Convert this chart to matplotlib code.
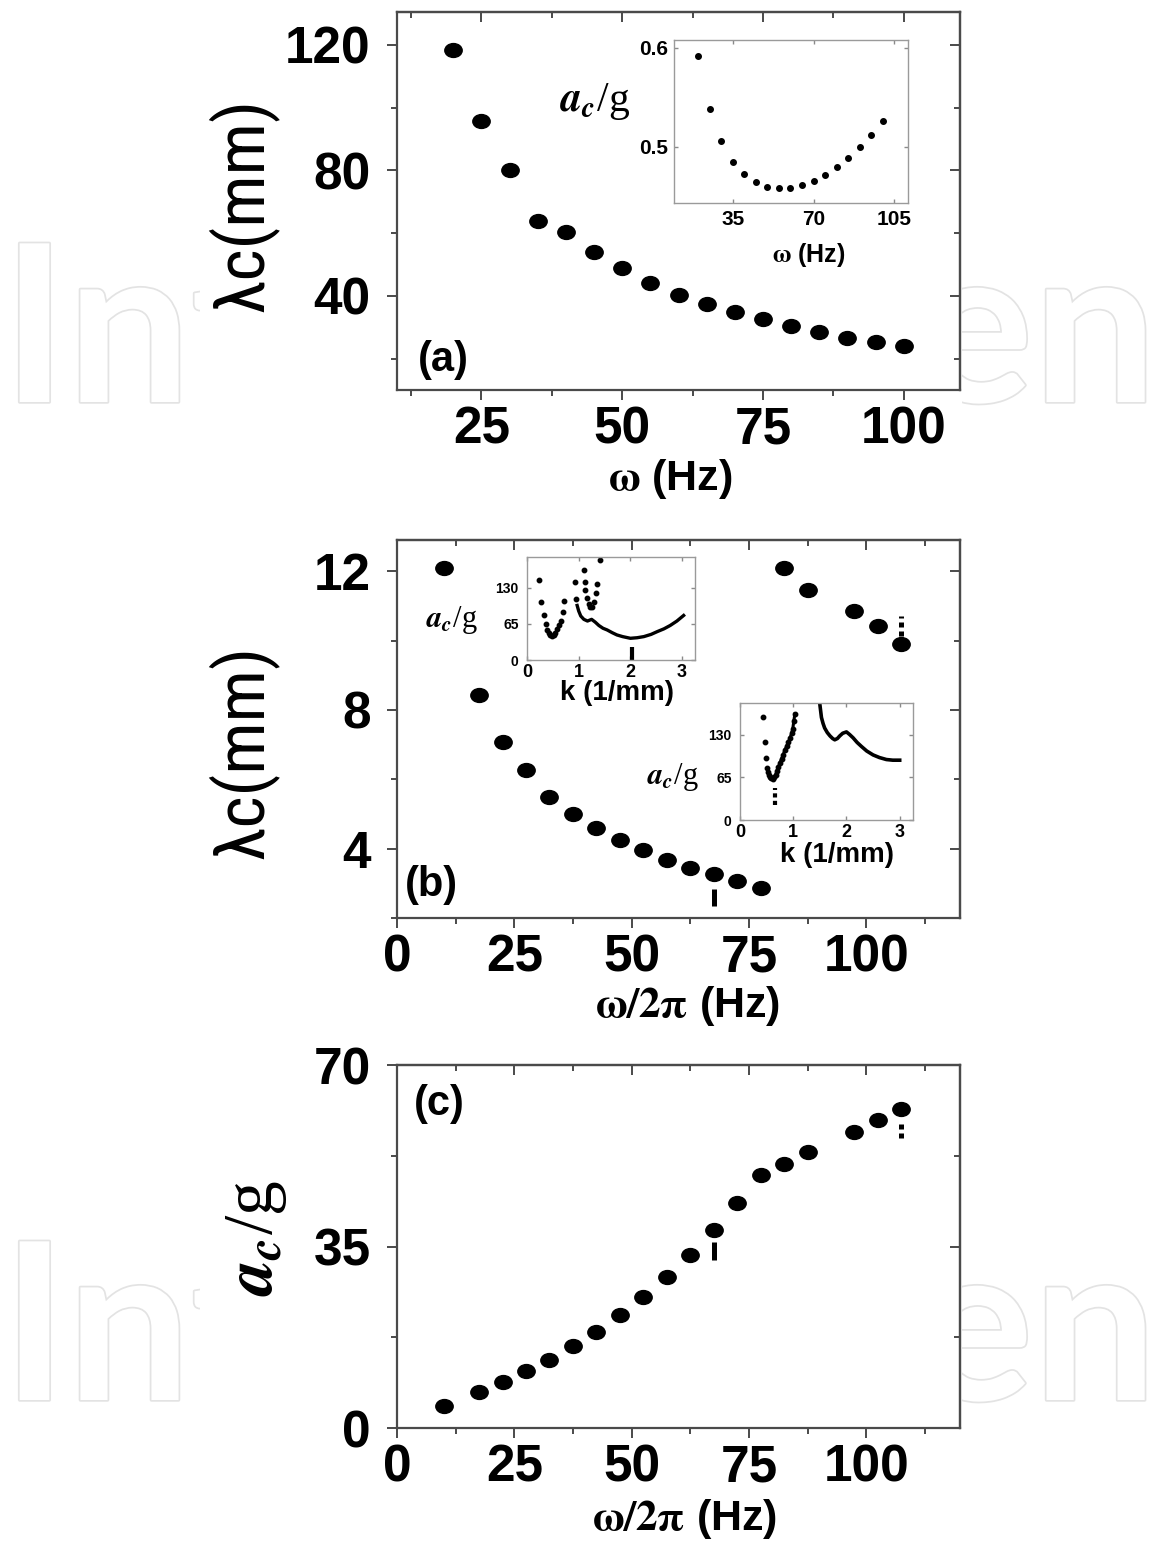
import matplotlib
matplotlib.use("Agg")
import matplotlib.pyplot as plt
from matplotlib.path import Path
from matplotlib.transforms import Affine2D
from matplotlib.ticker import MultipleLocator
from matplotlib.patches import Rectangle
from matplotlib.font_manager import FontProperties, findfont
import matplotlib.patheffects as pe

# ---------------- data ----------------
omega_a = [20, 25, 30, 35, 40, 45, 50, 55, 60, 65, 70, 75, 80, 85, 90, 95, 100]
lambda_a = [118.4, 95.7, 80.1, 64.0, 60.5, 54.0, 48.9, 44.1, 40.4, 37.5, 34.9,
            32.5, 30.4, 28.6, 26.7, 25.4, 24.0]
inset_a_omega = [20, 25, 30, 35, 40, 45, 50, 55, 60, 65, 70, 75, 80, 85, 90, 95, 100]
inset_a_acc = [0.592, 0.538, 0.506, 0.485, 0.472, 0.464, 0.459, 0.458, 0.458,
               0.461, 0.465, 0.471, 0.479, 0.489, 0.500, 0.512, 0.526]

omega_bc = [10, 17.5, 22.5, 27.5, 32.5, 37.5, 42.5, 47.5, 52.5, 57.5, 62.5,
            67.5, 72.5, 77.5, 82.5, 87.5, 97.5, 102.5, 107.5]
lambda_b = [12.1, 8.43, 7.08, 6.28, 5.49, 5.01, 4.60, 4.24, 3.95, 3.68, 3.44,
            3.28, 3.08, 2.87, 12.1, 11.47, 10.84, 10.41, 9.90]
acc_c = [4.2, 7.0, 8.8, 10.9, 13.2, 15.8, 18.6, 21.8, 25.3, 29.2, 33.4,
         38.2, 43.3, 48.8, 51.0, 53.3, 57.1, 59.4, 61.6]

# marks on selected points: (x, y_start, y_end)
b_solid_mark = (67.5, 2.36, 2.84)
b_dotted_mark = (107.5, 10.12, 10.70)
c_solid_mark = (67.5, 32.4, 35.9)
c_dotted_mark = (107.5, 55.9, 59.1)

# upper inset of (b): a_c/g vs k
ib1_tongue1_k = [0.23, 0.28, 0.32, 0.36, 0.39, 0.42, 0.45, 0.48, 0.52, 0.55,
                 0.58, 0.62, 0.65, 0.70, 0.72]
ib1_tongue1_a = [143, 104, 80, 65, 54, 48, 45, 44, 45, 49, 55, 62, 70, 86, 106]
ib1_tongue2_k = [0.935, 0.955, 1.10, 1.115, 1.13, 1.16, 1.19, 1.22, 1.25, 1.29,
                 1.33, 1.355, 1.42]
ib1_tongue2_a = [140, 110, 161, 140, 125, 112, 100, 95, 96, 105, 120, 137, 179]
ib1_curve_k = [0.97, 1.00, 1.04, 1.10, 1.17, 1.25, 1.32, 1.39, 1.47, 1.55, 1.65,
               1.74, 1.85, 2.00, 2.13, 2.26, 2.40, 2.52, 2.65, 2.77, 2.90, 3.03]
ib1_curve_a = [98, 88, 79, 73, 70, 73, 68, 62, 57, 54, 49, 45, 42, 39, 40, 42,
               46, 51, 56, 62, 70, 80]
ib1_mark = (2.03, 0, 24)

# lower inset of (b)
ib2_left_k = [0.44, 0.47, 0.49, 0.51, 0.53, 0.55, 0.57, 0.59, 0.62, 0.64, 0.67,
              0.69, 0.72, 0.75, 0.78, 0.81, 0.84, 0.875, 0.91, 0.94, 0.97, 0.99,
              1.01, 1.03]
ib2_left_a = [157, 118, 94, 79, 73, 69, 66, 64, 63, 65, 69, 74, 80, 87, 93, 99,
              106, 112, 118, 125, 132, 138, 150, 161]
ib2_right_k = [1.50, 1.53, 1.56, 1.59, 1.64, 1.69, 1.74, 1.78, 1.83, 1.875, 1.93,
               2.00, 2.06, 2.125, 2.20, 2.28, 2.38, 2.50, 2.62, 2.75, 2.87, 3.00]
ib2_right_a = [176, 156, 147, 140, 133, 128, 124, 122, 124, 128, 132, 134, 130,
               125, 118, 112, 105, 99, 95, 92, 91, 91]
ib2_mark = (0.65, 23, 48)

# ---------------- style ----------------
plt.rcParams["font.family"] = ["Liberation Sans", "DejaVu Sans"]
plt.rcParams["font.weight"] = "bold"
plt.rcParams["mathtext.fontset"] = "stix"


def has_font(name):
    try:
        findfont(FontProperties(family=name), fallback_to_default=False)
        return True
    except Exception:
        return False


narrow = None
for cand in ["Liberation Sans Narrow", "Roboto Condensed", "DejaVu Sans Condensed"]:
    if has_font(cand):
        narrow = cand
        break
if narrow:
    LAM_FAM, LAM_SIZE = [narrow, "DejaVu Sans"], 50
else:
    LAM_FAM, LAM_SIZE = ["Liberation Sans", "DejaVu Sans"], 41

SERIF = ["Liberation Serif", "DejaVu Serif"]
SP = "#4a4a4a"
W, H = 1150, 1541

fig = plt.figure(figsize=(W / 100, H / 100), dpi=100)
fig.patch.set_facecolor("white")


def rect(x0, y0, x1, y1):
    return [x0 / W, 1 - y1 / H, (x1 - x0) / W, (y1 - y0) / H]


# watermark (only the parts outside the chart show)
WM = dict(fontsize=158, family=["Lato", "Open Sans", "DejaVu Sans"],
          fontweight="bold", color="white", va="baseline", zorder=-3,
          path_effects=[pe.withStroke(linewidth=2.5, foreground="#e3e3e3")])
for base in (402, 1400):
    fig.text(2 / W, 1 - base / H, "Int", ha="left", **WM)
    fig.text(916 / W, 1 - base / H, "en", ha="left", **WM)
fig.add_artist(Rectangle((200 / W, 0), (962 - 200) / W, 1, transform=fig.transFigure,
                         facecolor="white", edgecolor="none", zorder=-2))

ell = Path.unit_circle().transformed(Affine2D().scale(1.25, 1.0))


def main_axes(r, xlim, ylim, xmaj, xminor, ymaj, yminor):
    ax = fig.add_axes(r)
    ax.set_xlim(xlim)
    ax.set_ylim(ylim)
    ax.set_xticks(xmaj)
    ax.set_yticks(ymaj)
    ax.xaxis.set_minor_locator(MultipleLocator(xminor))
    ax.yaxis.set_minor_locator(MultipleLocator(yminor))
    for s in ax.spines.values():
        s.set_color(SP)
        s.set_linewidth(1.6)
    ax.tick_params(which="both", direction="out", color=SP, width=1.4,
                   top=False, right=False, labelsize=37)
    ax.tick_params(which="major", length=7)
    ax.tick_params(which="minor", length=4)
    ax.tick_params(axis="x", which="major", pad=4)
    ax.tick_params(axis="y", which="major", pad=12)
    sx = ax.secondary_xaxis("top")
    sx.set_xticks(xmaj)
    sx.xaxis.set_minor_locator(MultipleLocator(xminor))
    sx.tick_params(which="both", direction="in", color=SP, width=1.4, labeltop=False)
    sx.tick_params(which="major", length=7)
    sx.tick_params(which="minor", length=4)
    sy = ax.secondary_yaxis("right")
    sy.set_yticks(ymaj)
    sy.yaxis.set_minor_locator(MultipleLocator(yminor))
    sy.tick_params(which="both", direction="in", color=SP, width=1.4, labelright=False)
    sy.tick_params(which="major", length=7)
    sy.tick_params(which="minor", length=4)
    for s in list(sx.spines.values()) + list(sy.spines.values()):
        s.set_color(SP)
        s.set_linewidth(1.6)
    return ax


def xlabel(ax, mathpart, x, y):
    ax.set_xlabel(mathpart + " (Hz)", fontsize=31, fontweight="bold", va="center")
    ax.xaxis.set_label_coords(x, y)


def inset_axes(r, xlim, ylim, xt, yt, xls, yls, xpad, ypad):
    ia = fig.add_axes(r)
    ia.set_xlim(xlim)
    ia.set_ylim(ylim)
    ia.set_xticks(xt)
    ia.set_yticks(yt)
    for s in ia.spines.values():
        s.set_color("#9a9a9a")
        s.set_linewidth(1.0)
    ia.tick_params(which="both", direction="in", color="#8a8a8a", width=1.0,
                   top=True, right=True, length=3)
    ia.tick_params(axis="x", labelsize=xls, pad=xpad)
    ia.tick_params(axis="y", labelsize=yls, pad=ypad)
    return ia


# ---------------- panel (a) ----------------
ax_a = main_axes(rect(397, 12, 960, 390), (10, 110), (10, 130.5),
                 [25, 50, 75, 100], 12.5, [40, 80, 120], 20)
ax_a.plot(omega_a, lambda_a, linestyle="none", marker=ell, ms=12.5, color="black")
ax_a.set_ylabel("λc(mm)", fontsize=LAM_SIZE, family=LAM_FAM, fontweight="normal",
                va="center")
ax_a.yaxis.set_label_coords(-0.2735, 0.489)
xlabel(ax_a, r"$\mathrm{\omega}$", 0.485, -0.235)
ax_a.text(0.037, 0.079, "(a)", transform=ax_a.transAxes, fontsize=30,
          fontweight="bold", ha="left", va="center")

ia = inset_axes(rect(674, 40, 908, 203), (9.6, 110.9), (0.443, 0.608),
                [35, 70, 105], [0.5, 0.6], 15, 15, 5, 4)
ia.plot(inset_a_omega, inset_a_acc, linestyle="none", marker="o", ms=4, color="black")
ia.set_xlabel(r"$\mathrm{\omega}$ (Hz)", fontsize=18, fontweight="bold", va="center")
ia.xaxis.set_label_coords(0.575, -0.32)
ia.text(-0.338, 0.62, r"$a_c$/g", transform=ia.transAxes, fontsize=30,
        family=SERIF, fontweight="normal", ha="center", va="center")

# ---------------- panel (b) ----------------
ax_b = main_axes(rect(397, 540, 960, 918), (0, 120), (2.0, 12.9),
                 [0, 25, 50, 75, 100], 12.5, [4, 8, 12], 2)
ax_b.plot(omega_bc, lambda_b, linestyle="none", marker=ell, ms=12.5, color="black")
ax_b.plot([b_solid_mark[0]] * 2, b_solid_mark[1:], color="black", lw=3.6,
          solid_capstyle="butt")
ax_b.plot([b_dotted_mark[0]] * 2, b_dotted_mark[1:], color="black", lw=3.6,
          linestyle=(0, (1.0, 0.8)), dash_capstyle="butt")
ax_b.set_ylabel("λc(mm)", fontsize=LAM_SIZE, family=LAM_FAM, fontweight="normal",
                va="center")
ax_b.yaxis.set_label_coords(-0.2735, 0.44)
xlabel(ax_b, r"$\mathrm{\omega/2\pi}$", 0.517, -0.232)
ax_b.text(0.014, 0.087, "(b)", transform=ax_b.transAxes, fontsize=30,
          fontweight="bold", ha="left", va="center")

ib1 = inset_axes(rect(527, 557, 695, 660), (0, 3.25), (0, 185),
                 [0, 1, 2, 3], [0, 65, 130], 13, 10, 3, 6)
ib1.plot(ib1_tongue1_k, ib1_tongue1_a, linestyle="none", marker="o", ms=3.2, color="black")
ib1.plot(ib1_tongue2_k, ib1_tongue2_a, linestyle="none", marker="o", ms=3.2, color="black")
ib1.plot(ib1_curve_k, ib1_curve_a, color="black", lw=2.4)
ib1.plot([ib1_mark[0]] * 2, ib1_mark[1:], color="black", lw=3.0, solid_capstyle="butt")
ib1.set_xlabel("k (1/mm)", fontsize=20, fontweight="bold", va="center")
ib1.xaxis.set_label_coords(0.534, -0.323)
ib1.text(-0.446, 0.39, r"$a_c$/g", transform=ib1.transAxes, fontsize=22,
         family=SERIF, fontweight="normal", ha="center", va="center")

ib2 = inset_axes(rect(740, 703, 913, 820), (0, 3.25), (0, 178),
                 [0, 1, 2, 3], [0, 65, 130], 13, 10, 3, 6)
ib2.plot(ib2_left_k, ib2_left_a, color="black", lw=0, marker="o", ms=3.2)
ib2.plot(ib2_left_k[4:], ib2_left_a[4:], color="black", lw=2.2)
ib2.plot(ib2_right_k, ib2_right_a, color="black", lw=2.6)
ib2.plot([ib2_mark[0]] * 2, ib2_mark[1:], color="black", lw=3.0,
         linestyle=(0, (1.0, 0.8)), dash_capstyle="butt")
ib2.set_xlabel("k (1/mm)", fontsize=20, fontweight="bold", va="center")
ib2.xaxis.set_label_coords(0.559, -0.30)
ib2.text(-0.387, 0.37, r"$a_c$/g", transform=ib2.transAxes, fontsize=22,
         family=SERIF, fontweight="normal", ha="center", va="center")

# ---------------- panel (c) ----------------
ax_c = main_axes(rect(397, 1065, 960, 1428), (0, 120), (0, 70),
                 [0, 25, 50, 75, 100], 12.5, [0, 35, 70], 17.5)
ax_c.plot(omega_bc, acc_c, linestyle="none", marker=ell, ms=12.5, color="black")
ax_c.plot([c_solid_mark[0]] * 2, c_solid_mark[1:], color="black", lw=3.6,
          solid_capstyle="butt")
ax_c.plot([c_dotted_mark[0]] * 2, c_dotted_mark[1:], color="black", lw=3.6,
          linestyle=(0, (1.0, 0.8)), dash_capstyle="butt")
ax_c.set_ylabel(r"$a_c$/g", fontsize=50, family=SERIF, fontweight="normal", va="center")
ax_c.yaxis.set_label_coords(-0.249, 0.523)
xlabel(ax_c, r"$\mathrm{\omega/2\pi}$", 0.51, -0.25)
ax_c.text(0.03, 0.893, "(c)", transform=ax_c.transAxes, fontsize=30,
          fontweight="bold", ha="left", va="center")

fig.savefig("out.png", dpi=100, facecolor="white")
